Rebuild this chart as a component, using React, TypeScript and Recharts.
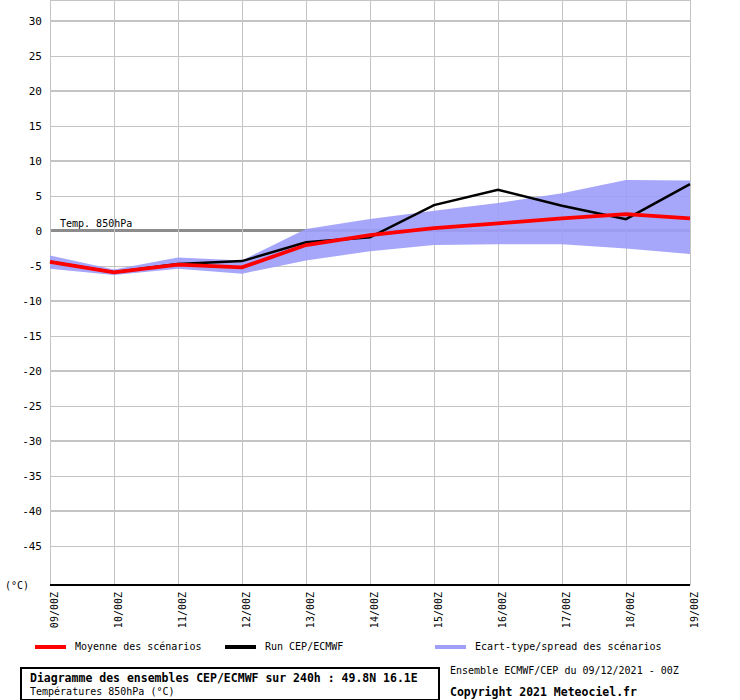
import React from 'react';
import { ComposedChart, Area, Line, XAxis, YAxis, CartesianGrid, ReferenceLine } from 'recharts';

const categories = ['09/00Z', '10/00Z', '11/00Z', '12/00Z', '13/00Z', '14/00Z', '15/00Z', '16/00Z', '17/00Z', '18/00Z', '19/00Z'];
const meanValues = [-4.4, -5.9, -4.8, -5.2, -2.0, -0.6, 0.4, 1.1, 1.8, 2.4, 1.8];
const runValues = [-4.4, -5.9, -4.7, -4.3, -1.6, -0.9, 3.7, 5.9, 3.6, 1.7, 6.7];
const spreadLow = [-5.4, -6.3, -5.4, -6.1, -4.2, -2.9, -2.0, -1.9, -1.9, -2.5, -3.3];
const spreadHigh = [-3.5, -5.5, -3.8, -4.2, 0.3, 1.7, 2.9, 4.0, 5.4, 7.3, 7.2];
const yTicks = [30, 25, 20, 15, 10, 5, 0, -5, -10, -15, -20, -25, -30, -35, -40, -45];

const chartData = categories.map((label, i) => ({
  label,
  mean: meanValues[i],
  run: runValues[i],
  spread: [spreadLow[i], spreadHigh[i]],
}));

const FONT = "'DejaVu Sans Mono', monospace";

const HLine = (props: any) => {
  const { x1, x2, y1, index } = props;
  const val = yTicks[index];
  if (val === 0) {
    return <line x1={x1} x2={x2} y1={y1 - 0.5} y2={y1 - 0.5} stroke="#8c8c8c" strokeWidth={3} />;
  }
  const w = val % 10 === 0 ? 2 : 1;
  const off = w === 1 ? 0.5 : 0;
  return <line x1={x1} x2={x2} y1={y1 + off} y2={y1 + off} stroke="#c4c4c4" strokeWidth={w} />;
};

const VLine = (props: any) => {
  const { x1, y2 } = props;
  return <line x1={x1 + 0.5} x2={x1 + 0.5} y1={0} y2={y2} stroke="#c4c4c4" strokeWidth={1} />;
};

const XTick = (props: any) => {
  const { x, payload } = props;
  return (
    <text
      transform={`translate(${x + 7.5},${585 + 7}) rotate(-90)`}
      textAnchor="end"
      fontFamily={FONT}
      fontSize={10}
      fill="#000"
    >
      {payload.value}
    </text>
  );
};

const legendItems = [
  { label: 'Moyenne des scénarios', color: '#ff0000', left: 35 },
  { label: 'Run CEP/ECMWF', color: '#000000', left: 225 },
  { label: 'Ecart-type/spread des scénarios', color: '#a0a0f8', left: 435 },
];

export default function App() {
  return (
    <div style={{ position: 'absolute', left: 0, top: 0, width: 740, height: 700, background: '#fff', fontFamily: FONT }}>
      <ComposedChart width={740} height={700} data={chartData} margin={{ top: 0, right: 50, bottom: 75, left: 0 }}>
        <CartesianGrid horizontal={HLine} vertical={VLine} />
        <XAxis
          dataKey="label"
          height={40}
          interval={0}
          tickLine={false}
          axisLine={{ stroke: '#000', strokeWidth: 2 }}
          tick={XTick}
        />
        <YAxis
          type="number"
          domain={[-50.57, 33]}
          ticks={yTicks}
          interval={0}
          allowDataOverflow
          width={50}
          tickLine={false}
          axisLine={false}
          tick={{ fontFamily: FONT, fontSize: 11, fill: '#000' }}
        />
        <ReferenceLine
          y={0}
          stroke="none"
          label={{
            content: (p: any) => (
              <text x={p.viewBox.x + 10} y={p.viewBox.y - 4} fontFamily={FONT} fontSize={10} fill="#000">
                Temp. 850hPa
              </text>
            ),
          }}
        />
        <Area
          type="linear"
          dataKey="spread"
          stroke="none"
          fill="#9c9cfa"
          fillOpacity={0.9}
          isAnimationActive={false}
        />
        <Line type="linear" dataKey="run" stroke="#000" strokeWidth={2.5} dot={false} isAnimationActive={false} />
        <Line type="linear" dataKey="mean" stroke="#ff0000" strokeWidth={3.8} dot={false} isAnimationActive={false} />
      </ComposedChart>

      <div style={{ position: 'absolute', left: 5, top: 580, fontSize: 10, lineHeight: '12px' }}>(°C)</div>

      {legendItems.map((it) => (
        <div key={it.label} style={{ position: 'absolute', left: it.left, top: 640, height: 14, display: 'flex', alignItems: 'center' }}>
          <div style={{ width: 31, height: 4, background: it.color, marginRight: 9 }} />
          <span style={{ fontSize: 10, lineHeight: '14px' }}>{it.label}</span>
        </div>
      ))}

      <div
        style={{
          position: 'absolute',
          left: 20,
          top: 667,
          width: 416,
          height: 30,
          border: '2px solid #000',
        }}
      >
        <div style={{ position: 'absolute', left: 8, top: 2, fontSize: 11.5, fontWeight: 'bold', lineHeight: '14px', whiteSpace: 'nowrap' }}>
          Diagramme des ensembles CEP/ECMWF sur 240h : 49.8N 16.1E
        </div>
        <div style={{ position: 'absolute', left: 8, top: 17, fontSize: 10, lineHeight: '12px', whiteSpace: 'nowrap' }}>
          Températures 850hPa (°C)
        </div>
      </div>
      <div style={{ position: 'absolute', left: 450, top: 665, fontSize: 10, lineHeight: '12px', whiteSpace: 'nowrap' }}>
        Ensemble ECMWF/CEP du 09/12/2021 - 00Z
      </div>
      <div style={{ position: 'absolute', left: 450, top: 685, fontSize: 11.5, fontWeight: 'bold', lineHeight: '14px', whiteSpace: 'nowrap' }}>
        Copyright 2021 Meteociel.fr
      </div>
    </div>
  );
}
